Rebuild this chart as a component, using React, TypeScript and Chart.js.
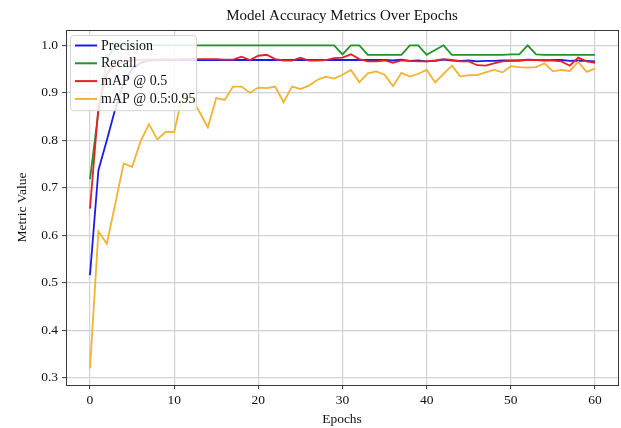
import React, { useEffect, useRef } from "react";
import { Chart, registerables } from "chart.js";

Chart.register(...registerables);

const chartTitle = "Model Accuracy Metrics Over Epochs";
const xAxisTitle = "Epochs";
const yAxisTitle = "Metric Value";

const epochs = [
  0, 1, 2, 3, 4, 5, 6, 7, 8, 9, 10, 11, 12, 13, 14, 15, 16, 17, 18, 19, 20,
  21, 22, 23, 24, 25, 26, 27, 28, 29, 30, 31, 32, 33, 34, 35, 36, 37, 38, 39, 40,
  41, 42, 43, 44, 45, 46, 47, 48, 49, 50, 51, 52, 53, 54, 55, 56, 57, 58, 59, 60,
];

const precision = [
  0.516, 0.737, 0.8, 0.866, 0.92, 0.95, 0.963, 0.968, 0.969, 0.969, 0.969,
  0.969, 0.969, 0.969, 0.969, 0.969, 0.969, 0.969, 0.969, 0.969, 0.969,
  0.969, 0.969, 0.969, 0.969, 0.969, 0.969, 0.969, 0.969, 0.969, 0.969,
  0.969, 0.969, 0.969, 0.969, 0.969, 0.968, 0.97, 0.967, 0.968, 0.966,
  0.967, 0.97, 0.968, 0.967, 0.968, 0.966, 0.967, 0.967, 0.968, 0.968,
  0.968, 0.97, 0.969, 0.968, 0.969, 0.969, 0.967, 0.968, 0.967, 0.966,
];

const recall = [
  0.718, 0.86, 0.97, 1.0, 1.0, 1.0, 1.0, 1.0, 1.0, 1.0, 1.0,
  1.0, 1.0, 1.0, 1.0, 1.0, 1.0, 1.0, 1.0, 1.0, 1.0,
  1.0, 1.0, 1.0, 1.0, 1.0, 1.0, 1.0, 1.0, 1.0, 0.981,
  1.0, 1.0, 0.98, 0.98, 0.98, 0.98, 0.98, 1.0, 1.0, 0.98,
  0.99, 1.0, 0.98, 0.98, 0.98, 0.98, 0.98, 0.98, 0.98, 0.981,
  0.981, 1.0, 0.981, 0.98, 0.98, 0.98, 0.98, 0.98, 0.98, 0.98,
];

const map50 = [
  0.656, 0.87, 0.94, 0.96, 0.965, 0.968, 0.97, 0.97, 0.97, 0.971, 0.97,
  0.971, 0.971, 0.971, 0.971, 0.971, 0.97, 0.97, 0.976, 0.969, 0.978,
  0.98, 0.971, 0.968, 0.968, 0.974, 0.968, 0.968, 0.969, 0.973, 0.974,
  0.981, 0.971, 0.966, 0.966, 0.968, 0.963, 0.968, 0.967, 0.966, 0.966,
  0.968, 0.971, 0.969, 0.966, 0.966, 0.958, 0.957, 0.962, 0.966, 0.967,
  0.968, 0.969, 0.969, 0.969, 0.968, 0.966, 0.957, 0.974, 0.966, 0.963,
];

const map5095 = [
  0.32, 0.608, 0.582, 0.666, 0.751, 0.744, 0.797, 0.834, 0.802, 0.818, 0.817,
  0.896, 0.89, 0.86, 0.827, 0.889, 0.885, 0.913, 0.913, 0.9, 0.911,
  0.91, 0.913, 0.88, 0.913, 0.908, 0.915, 0.927, 0.934, 0.93, 0.938,
  0.948, 0.922, 0.941, 0.945, 0.938, 0.914, 0.942, 0.934, 0.94, 0.948,
  0.922, 0.94, 0.957, 0.934, 0.937, 0.937, 0.943, 0.948, 0.943, 0.956,
  0.954, 0.953, 0.954, 0.962, 0.945, 0.948, 0.946, 0.965, 0.944, 0.951,
];

const seriesNames = ["Precision", "Recall", "mAP @ 0.5", "mAP @ 0.5:0.95"];
const seriesColors = ["#1c1ce6", "#22922a", "#e6202a", "#f2b233"];
const seriesValues = [precision, recall, map50, map5095];

const xTicks = [0, 10, 20, 30, 40, 50, 60];
const yTicks = [0.3, 0.4, 0.5, 0.6, 0.7, 0.8, 0.9, 1.0];

const FONT = '"Liberation Serif", "Times New Roman", serif';

const legendPlugin = {
  id: "boxLegend",
  afterDatasetsDraw(chart: any) {
    const { ctx, chartArea } = chart;
    const x0 = chartArea.left + 4;
    const y0 = chartArea.top + 5;
    const w = 126;
    const rowH = 17.8;
    const h = rowH * seriesNames.length + 4;
    ctx.save();
    ctx.beginPath();
    ctx.roundRect(x0 + 0.5, y0 + 0.5, w, h, 3);
    ctx.fillStyle = "rgba(255,255,255,0.85)";
    ctx.fill();
    ctx.strokeStyle = "#d4d4d4";
    ctx.lineWidth = 1;
    ctx.stroke();
    ctx.font = `14px ${FONT}`;
    ctx.textBaseline = "middle";
    ctx.textAlign = "left";
    seriesNames.forEach((name, i) => {
      const y = y0 + 10.5 + i * rowH;
      ctx.beginPath();
      ctx.moveTo(x0 + 5, y);
      ctx.lineTo(x0 + 27, y);
      ctx.strokeStyle = seriesColors[i];
      ctx.lineWidth = 2;
      ctx.stroke();
      ctx.fillStyle = "#111";
      ctx.fillText(name, x0 + 31, y + 0.5);
    });
    ctx.restore();
  },
};

const framePlugin = {
  id: "frame",
  afterDraw(chart: any) {
    const { ctx, chartArea } = chart;
    ctx.save();
    ctx.strokeStyle = "#3a3a3a";
    ctx.lineWidth = 1;
    ctx.strokeRect(
      Math.round(chartArea.left) + 0.5,
      Math.round(chartArea.top) + 0.5,
      Math.round(chartArea.right - chartArea.left),
      Math.round(chartArea.bottom - chartArea.top)
    );
    ctx.restore();
  },
};

export default function App() {
  const ref = useRef<HTMLCanvasElement | null>(null);

  useEffect(() => {
    if (!ref.current) return;
    const datasets = seriesNames.map((name, i) => ({
      label: name,
      data: epochs.map((e, j) => ({ x: e, y: seriesValues[i][j] })),
      borderColor: seriesColors[i],
      backgroundColor: seriesColors[i],
      borderWidth: 1.8,
      pointRadius: 0,
      tension: 0,
      order: seriesNames.length - 1 - i,
    }));

    const chart = new Chart(ref.current, {
      type: "line",
      data: { datasets },
      plugins: [legendPlugin, framePlugin],
      options: {
        animation: false,
        responsive: false,
        devicePixelRatio: 1,
        layout: { padding: { left: 0, right: 3, top: 0, bottom: 0 } },
        plugins: {
          legend: { display: false },
          tooltip: { enabled: false },
          title: {
            display: true,
            fullSize: false,
            text: chartTitle,
            color: "#111",
            font: { family: FONT, size: 15, weight: "normal" },
            padding: { top: 7, bottom: 5 },
          },
        },
        scales: {
          x: {
            type: "linear",
            min: -2.85,
            max: 62.73,
            afterBuildTicks: (axis: any) => {
              axis.ticks = xTicks.map((v) => ({ value: v }));
            },
            afterFit: (axis: any) => {
              axis.height = 43;
            },
            ticks: {
              color: "#111",
              font: { family: FONT, size: 13.5 },
              padding: 3,
              maxRotation: 0,
              callback: (v: any) => String(v),
            },
            grid: {
              color: "#d2d2d2",
              lineWidth: 1.2,
              drawTicks: true,
              tickLength: 4,
              tickColor: "#3a3a3a",
              tickWidth: 1,
            },
            border: { display: false },
            title: {
              display: true,
              text: xAxisTitle,
              color: "#111",
              font: { family: FONT, size: 13.5 },
              padding: { top: 0, bottom: 0 },
            },
          },
          y: {
            type: "linear",
            min: 0.2846,
            max: 1.0322,
            afterBuildTicks: (axis: any) => {
              axis.ticks = yTicks.map((v) => ({ value: v }));
            },
            afterFit: (axis: any) => {
              axis.width = 66;
            },
            ticks: {
              color: "#111",
              font: { family: FONT, size: 13.5 },
              padding: 4,
              callback: (v: any) => Number(v).toFixed(1),
            },
            grid: {
              color: "#d2d2d2",
              lineWidth: 1.2,
              drawTicks: true,
              tickLength: 4,
              tickColor: "#3a3a3a",
              tickWidth: 1,
            },
            border: { display: false },
            title: {
              display: true,
              text: yAxisTitle,
              color: "#111",
              font: { family: FONT, size: 13.5 },
              padding: { top: 14, bottom: 0 },
            },
          },
        },
      },
    });
    return () => chart.destroy();
  }, []);

  return (
    <div style={{ position: "absolute", left: 0, top: 0, width: 621, height: 428, background: "#fff" }}>
      <canvas ref={ref} width={621} height={428} style={{ width: 621, height: 428, display: "block" }} />
    </div>
  );
}
